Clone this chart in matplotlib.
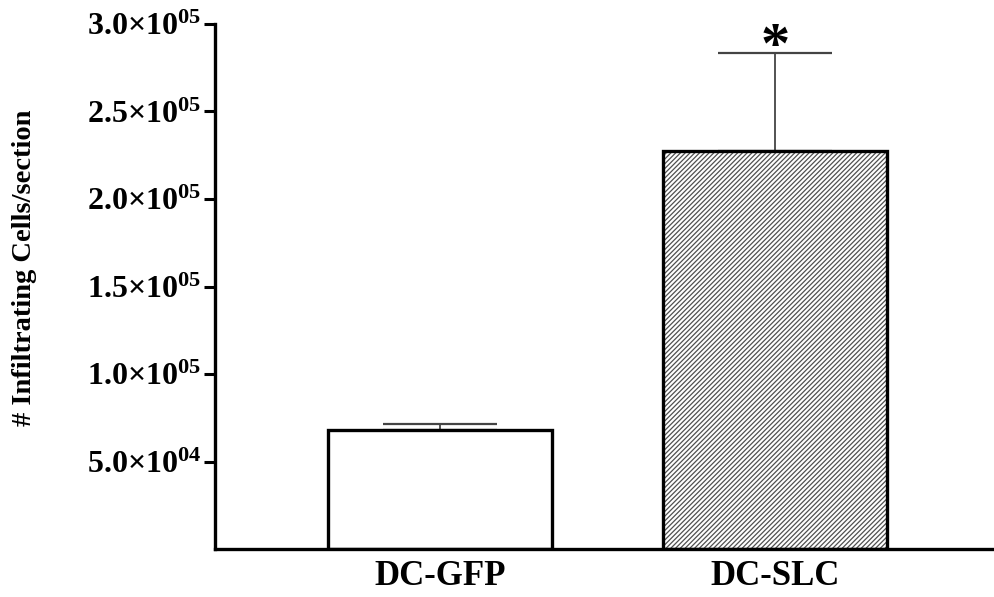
import numpy as np
import matplotlib
matplotlib.use("Agg")
import matplotlib.pyplot as plt

# data
groups = ["DC-GFP", "DC-SLC"]
means = [68000, 227700]
errs = [3500, 56000]
yticks = [5.0e4, 1.0e5, 1.5e5, 2.0e5, 2.5e5, 3.0e5]
ytick_labels = ["5.0", "1.0", "1.5", "2.0", "2.5", "3.0"]
ytick_exps = ["04", "05", "05", "05", "05", "05"]
ylabel = "# Infiltrating Cells/section"
star_y = 286000

plt.rcParams["font.family"] = "Liberation Serif"
plt.rcParams["font.weight"] = "bold"
plt.rcParams["mathtext.fontset"] = "custom"
plt.rcParams["mathtext.rm"] = "Liberation Serif:bold"
plt.rcParams["mathtext.bf"] = "Liberation Serif:bold"
plt.rcParams["mathtext.it"] = "Liberation Serif:bold"
plt.rcParams["hatch.linewidth"] = 0.9

fig = plt.figure(figsize=(9.94, 5.97), dpi=100)
ax = fig.add_axes([0.2163, 0.0804, 0.7837, 0.8794])

x = np.arange(len(groups))
# hatch drawn in grey, outline in black on top
ax.bar(x, means, width=0.67, color="white", edgecolor="#505050",
       linewidth=0, hatch=["", "///////"], zorder=2)
ax.bar(x, means, width=0.67, fill=False, edgecolor="black",
       linewidth=2.4, zorder=3)
ax.errorbar(x, means, yerr=[np.zeros(len(errs)), errs], fmt="none",
            ecolor="#444444", elinewidth=1.3, capsize=41, capthick=1.6, zorder=1)
ax.text(1, star_y, "*", ha="center", va="center", fontsize=42, fontweight="bold")

ax.set_xlim(-0.672, 1.654)
ax.set_ylim(0, 3.0e5)

ax.spines["top"].set_visible(False)
ax.spines["right"].set_visible(False)
ax.spines["left"].set_linewidth(2.4)
ax.spines["bottom"].set_linewidth(2.4)

ax.set_yticks(yticks)
ax.set_yticklabels(["%s×10$^{%s}$" % (m, e) for m, e in zip(ytick_labels, ytick_exps)],
                   fontsize=23)
ax.tick_params(axis="y", length=8, width=2.2, pad=2)
ax.set_xticks(x)
ax.set_xticklabels(groups, fontsize=25, fontweight="bold")
ax.tick_params(axis="x", length=0, pad=8)

fig.text(0.025, 0.551, ylabel, rotation=90, ha="center", va="center",
         fontsize=20.5, fontweight="bold")

fig.savefig("out.png", dpi=100)
